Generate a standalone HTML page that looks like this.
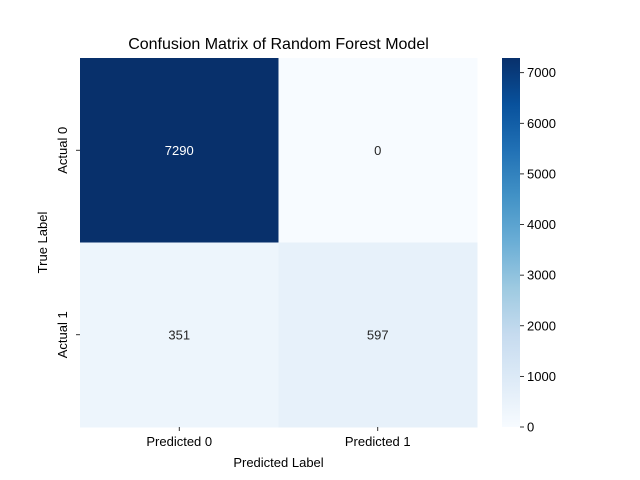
<!DOCTYPE html>
<html><head><meta charset="utf-8"><style>
body{margin:0;background:#fff;}
svg{display:block;font-family:"Liberation Sans","DejaVu Sans",sans-serif;}
</style></head><body>
<svg id="chart" width="640" height="480"></svg>
<script>
const rowLabels = ["Actual 0", "Actual 1"];
const colLabels = ["Predicted 0", "Predicted 1"];
const matrixValues = [[7290, 0], [351, 597]];
const colorbarTicks = [0, 1000, 2000, 3000, 4000, 5000, 6000, 7000];

const NS = "http://www.w3.org/2000/svg";
const svg = document.getElementById("chart");
function mk(tag, attrs, parent) {
  const e = document.createElementNS(NS, tag);
  for (const k in attrs) e.setAttribute(k, attrs[k]);
  (parent || svg).appendChild(e);
  return e;
}
const stops = ["#f7fbff","#deebf7","#c6dbef","#9ecae1","#6baed6","#4292c6","#2171b5","#08519c","#08306b"];
function hex(h){return [1,3,5].map(i=>parseInt(h.substr(i,2),16));}
function blues(t){
  t=Math.max(0,Math.min(1,t));
  const p=t*(stops.length-1), i=Math.min(Math.floor(p),stops.length-2), f=p-i;
  const a=hex(stops[i]), b=hex(stops[i+1]);
  return "rgb("+a.map((v,k)=>Math.round(v+(b[k]-v)*f)).join(",")+")";
}
const flat = matrixValues.flat();
const vmin = Math.min(...flat), vmax = Math.max(...flat);
const X0=80, X1=477, Y0=58, Y1=427;
const cw=(X1-X0)/colLabels.length, ch=(Y1-Y0)/rowLabels.length;

const title = mk("text",{x:278.5,y:49,"text-anchor":"middle","font-size":16,fill:"#000"});
title.textContent="Confusion Matrix of Random Forest Model";



matrixValues.forEach((row,r)=>row.forEach((v,c)=>{
  const t=(v-vmin)/(vmax-vmin);
  const rect=mk("rect",{x:X0+c*cw,y:Y0+r*ch,width:cw+0.5,height:ch+0.5,fill:blues(t)});
  
  
  const tx=mk("text",{x:X0+(c+0.5)*cw,y:Y0+(r+0.5)*ch+4.5,"text-anchor":"middle","font-size":13,fill:t>0.5?"#fff":"#262626"});
  tx.textContent=v;
  
  
}));

colLabels.forEach((l,c)=>{
  const x=X0+(c+0.5)*cw;
  mk("line",{x1:x,y1:Y1,x2:x,y2:Y1+4,stroke:"#000","stroke-width":0.8});
  const t=mk("text",{x:x,y:Y1+19,"text-anchor":"middle","font-size":13,fill:"#000"});
  t.textContent=l;
  
  
});
rowLabels.forEach((l,r)=>{
  const y=Y0+(r+0.5)*ch;
  mk("line",{x1:X0,y1:y,x2:X0-4,y2:y,stroke:"#000","stroke-width":0.8});
  const t=mk("text",{x:0,y:0,"text-anchor":"middle","font-size":13,fill:"#000",transform:"translate(67,"+y+") rotate(-90)"});
  t.textContent=l;
  
  
});
const xt=mk("text",{x:278.5,y:467,"text-anchor":"middle","font-size":13,fill:"#000"});
xt.textContent="Predicted Label";


const yt=mk("text",{x:0,y:0,"text-anchor":"middle","font-size":13,fill:"#000",transform:"translate(47,242.5) rotate(-90)"});
yt.textContent="True Label";



// colorbar
const CX0=502, CX1=520;
const defs=mk("defs",{});
const grad=mk("linearGradient",{id:"cb",x1:0,y1:1,x2:0,y2:0},defs);
stops.forEach((s,i)=>mk("stop",{offset:i/(stops.length-1),"stop-color":s},grad));
const cb=mk("rect",{x:CX0,y:Y0,width:CX1-CX0,height:Y1-Y0,fill:"url(#cb)"});


function cy(v){return Y1-(v-vmin)/(vmax-vmin)*(Y1-Y0);}
colorbarTicks.forEach(v=>{
  const y=cy(v);
  mk("line",{x1:CX1,y1:y,x2:CX1+4,y2:y,stroke:"#000","stroke-width":0.8});
  const t=mk("text",{x:CX1+7,y:y+4.5,"font-size":13,fill:"#000"});
  t.textContent=v;
  
  
});
</script>
</body></html>
